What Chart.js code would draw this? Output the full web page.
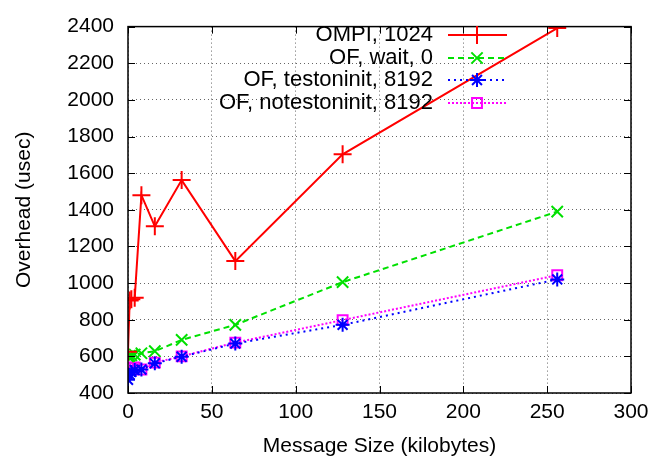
<!DOCTYPE html>
<html>
<head>
<meta charset="utf-8">
<script src="https://cdn.jsdelivr.net/npm/chart.js@4.4.1/dist/chart.umd.min.js"></script>
<style>
  html, body { margin: 0; padding: 0; background: #fff; }
  #wrap { width: 669px; height: 461px; }
</style>
</head>
<body>
<div id="wrap"><canvas id="overhead" width="669" height="461"></canvas></div>
<script>
// message sizes (kilobytes)
const sizes = [0, 1, 2, 4, 8, 16, 32, 64, 128, 256];

// overhead in usec, one per size
const ompi1024 = [625, 905, 912, 920, 1480, 1310, 1562, 1120, 1703, 2392];
const ofWait0 = [600, 603, 606, 610, 617, 628, 690, 772, 1005, 1390];
const ofTestoninit = [472, 500, 515, 525, 528, 562, 598, 670, 772, 1020];
const ofNotestoninit = [535, 535, 538, 540, 528, 566, 600, 675, 798, 1043];

const xTicks = [0, 50, 100, 150, 200, 250, 300];
const yTicks = [400, 600, 800, 1000, 1200, 1400, 1600, 1800, 2000, 2200, 2400];

const FONT = 'Liberation Sans, Arial, Helvetica, sans-serif';

function pts(ys) {
    return sizes.map((s, i) => ({ x: s, y: ys[i] }));
}

function series(label, ys, color, dash, style, radius) {
    return {
        label: label,
        data: pts(ys),
        borderColor: color,
        backgroundColor: 'rgba(0,0,0,0)',
        borderWidth: 2,
        borderDash: dash,
        showLine: true,
        tension: 0,
        pointStyle: style,
        pointRadius: radius,
        pointBorderColor: color,
        pointBorderWidth: 2,
        pointBackgroundColor: 'rgba(0,0,0,0)',
    };
}

const datasets = [
    series('OMPI, 1024', ompi1024, '#ff0000', [], 'cross', 9),
    series('OF, wait, 0', ofWait0, '#00e000', [6, 4], 'crossRot', 8),
    series('OF, testoninit, 8192', ofTestoninit, '#0000ff', [2, 4], 'star', 7),
    series('OF, notestoninit, 8192', ofNotestoninit, '#ff00ff', [2, 2], 'rect', 7),
];

// gnuplot-like frame, inward tick marks and key inside the plot
const framePlugin = {
    id: 'frame',
    afterDraw(chart) {
        const ctx = chart.ctx;
        const a = chart.chartArea;
        const xs = chart.scales.x, ys = chart.scales.y;
        ctx.save();
        ctx.strokeStyle = '#000';
        ctx.lineWidth = 1;
        ctx.setLineDash([]);
        ctx.beginPath();
        xTicks.forEach((t) => {
            const px = Math.round(xs.getPixelForValue(t)) + 0.5;
            ctx.moveTo(px, a.bottom); ctx.lineTo(px, a.bottom - 7);
            ctx.moveTo(px, a.top); ctx.lineTo(px, a.top + 7);
        });
        yTicks.forEach((t) => {
            const py = Math.round(ys.getPixelForValue(t)) + 0.5;
            ctx.moveTo(a.left, py); ctx.lineTo(a.left + 7, py);
            ctx.moveTo(a.right, py); ctx.lineTo(a.right - 7, py);
        });
        ctx.stroke();
        ctx.lineWidth = 1.5;
        ctx.strokeRect(a.left, a.top, a.right - a.left, a.bottom - a.top);

        // key
        const textRight = 433, lineL = 448, lineR = 507, markX = 477;
        const rows = [35, 58, 80, 103];
        ctx.font = '22px ' + FONT;
        ctx.textAlign = 'right';
        ctx.textBaseline = 'middle';
        chart.data.datasets.forEach((ds, i) => {
            const y = rows[i];
            ctx.fillStyle = '#000';
            ctx.fillText(ds.label, textRight, y);
            ctx.strokeStyle = ds.borderColor;
            ctx.lineWidth = 2;
            ctx.setLineDash(ds.borderDash);
            ctx.beginPath();
            ctx.moveTo(lineL, y); ctx.lineTo(lineR, y);
            ctx.stroke();
            ctx.setLineDash([]);
            ctx.fillStyle = 'rgba(0,0,0,0)';
            Chart.helpers.drawPoint(ctx, {
                pointStyle: ds.pointStyle,
                radius: ds.pointRadius,
                rotation: 0,
                borderWidth: 2,
            }, markX, y);
        });
        ctx.restore();
    },
};

const tickFont = { family: FONT, size: 21 };

const config = {
    type: 'scatter',
    data: { datasets: datasets },
    options: {
        responsive: false,
        animation: false,
        layout: { padding: { top: 19, right: 38, left: 0, bottom: 0 } },
        scales: {
            x: {
                type: 'linear',
                min: 0,
                max: 300,
                afterBuildTicks: (scale) => { scale.ticks = xTicks.map((v) => ({ value: v })); },
                afterFit: (scale) => { scale.height = 68; },
                grid: { color: '#666', lineWidth: 1, drawTicks: false },
                border: { display: false, dash: [1, 3] },
                ticks: { color: '#000', padding: 7, font: tickFont, callback: (v) => String(v) },
                title: {
                    display: true,
                    text: 'Message Size (kilobytes)',
                    color: '#000',
                    font: tickFont,
                    padding: { top: 0, bottom: 2 },
                },
            },
            y: {
                type: 'linear',
                min: 400,
                max: 2400,
                afterBuildTicks: (scale) => { scale.ticks = yTicks.map((v) => ({ value: v })); },
                afterFit: (scale) => { scale.width = 128; },
                grid: { color: '#666', lineWidth: 1, drawTicks: false },
                border: { display: false, dash: [1, 3] },
                ticks: { color: '#000', padding: 14, font: tickFont, callback: (v) => String(v) },
                title: {
                    display: true,
                    text: 'Overhead (usec)',
                    color: '#000',
                    font: tickFont,
                    padding: { top: 12, bottom: 0 },
                },
            },
        },
        plugins: {
            legend: { display: false },
            tooltip: { enabled: false },
        },
    },
    plugins: [framePlugin],
};

const overheadChart = new Chart(document.getElementById('overhead').getContext('2d'), config);
</script>
</body>
</html>
